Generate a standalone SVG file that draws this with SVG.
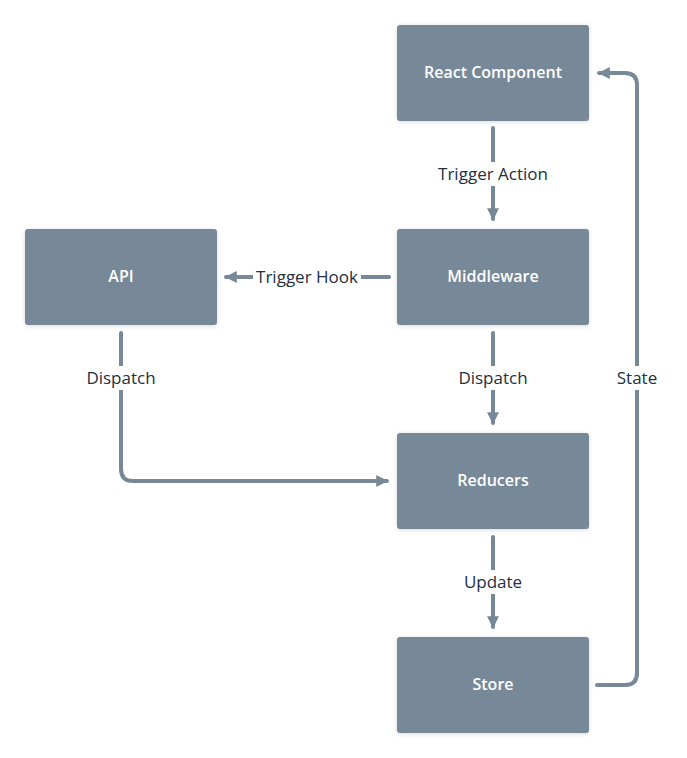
<svg xmlns="http://www.w3.org/2000/svg" width="687" height="758" viewBox="0 0 687 758">
<defs>
<filter id="sh" x="-10%" y="-10%" width="120%" height="130%"><feDropShadow dx="0" dy="1" stdDeviation="2" flood-color="#000" flood-opacity="0.15"/></filter>
<marker id="ah" viewBox="0 0 10 10" refX="9" refY="5" markerWidth="3" markerHeight="3" orient="auto" markerUnits="strokeWidth"><path d="M0,0 L10,5 L0,10 z" fill="#778899"/></marker>
<style>
.n{fill:#778899;filter:url(#sh)}
.t{font-family:"Open Sans","Liberation Sans",sans-serif;font-size:16px;font-weight:600;fill:#fff;text-anchor:middle;dominant-baseline:central}
.e{fill:none;stroke:#778899;stroke-width:4;stroke-linecap:round;stroke-linejoin:round;marker-end:url(#ah)}
.lb{fill:#fff}
.l{font-family:"Open Sans","Liberation Sans",sans-serif;font-size:17px;font-weight:500;fill:#22303f;text-anchor:middle;dominant-baseline:central}
</style>
</defs>
<rect width="687" height="758" fill="#fff"/>
<g id="connectors">
<path class="e" d="M493,128 V219"/>
<path class="e" d="M389,277 H226"/>
<path class="e" d="M121,333 V469 Q121,481 133,481 H387"/>
<path class="e" d="M493,333 V423"/>
<path class="e" d="M493,537 V627"/>
<path class="e" d="M597,685 H625 Q637,685 637,673 V85 Q637,73 625,73 H599"/>
<rect class="lb" x="434" y="162" width="118" height="24"/><text class="l" x="493" y="173">Trigger Action</text>
<rect class="lb" x="253" y="265" width="108" height="24"/><text class="l" x="307" y="276">Trigger Hook</text>
<rect class="lb" x="84" y="366" width="74" height="24"/><text class="l" x="121" y="377">Dispatch</text>
<rect class="lb" x="456" y="366" width="74" height="24"/><text class="l" x="493" y="377">Dispatch</text>
<rect class="lb" x="462" y="570" width="62" height="24"/><text class="l" x="493" y="581">Update</text>
<rect class="lb" x="614" y="366" width="46" height="24"/><text class="l" x="637" y="377">State</text>
</g>
<g id="react"><rect class="n" x="397" y="25" width="192" height="96" rx="3"/><text class="t" x="493" y="72">React Component</text></g>
<g id="middleware"><rect class="n" x="397" y="229" width="192" height="96" rx="3"/><text class="t" x="493" y="276">Middleware</text></g>
<g id="api"><rect class="n" x="25" y="229" width="192" height="96" rx="3"/><text class="t" x="121" y="276">API</text></g>
<g id="reducers"><rect class="n" x="397" y="433" width="192" height="96" rx="3"/><text class="t" x="493" y="480">Reducers</text></g>
<g id="store"><rect class="n" x="397" y="637" width="192" height="96" rx="3"/><text class="t" x="493" y="684">Store</text></g>
</svg>
